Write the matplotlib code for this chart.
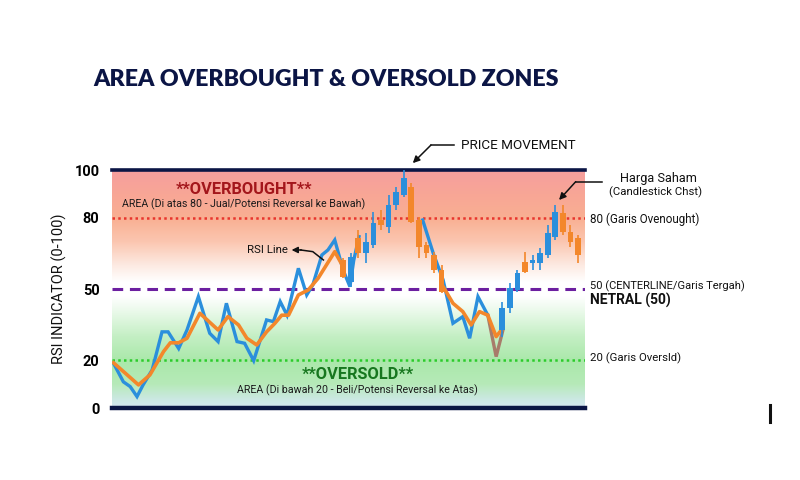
import numpy as np
import matplotlib.pyplot as plt
from matplotlib.colors import LinearSegmentedColormap

# RSI line (blue): x in bar units, y in RSI
rsi_x1 = [-0.3, 1.0, 1.9, 2.8, 3.6, 4.8, 6.1, 6.9, 8.3, 9.4, 10.9, 12.4, 13.5, 14.6,
          16.0, 17.0, 18.2, 19.9, 20.8, 21.7, 22.6, 24.1, 25.2, 26.0, 27.2, 28.0,
          28.9, 30.0, 30.9, 31.4, 32.1]
rsi_y1 = [18.8, 11, 9, 4.8, 9.7, 16, 32, 32, 25, 32.8, 46.8, 31.4, 27.9, 44,
          27.9, 27.2, 19.9, 37, 36.3, 44.7, 39, 58.7, 47.5, 51.7, 64.3, 66.4,
          70.6, 58, 51, 62, 72]
rsi_x2 = [40.5, 41.9, 43.2, 44.5, 45.8, 46.7, 47.8, 49.1]
rsi_y2 = [79, 65, 53.8, 35.6, 38.4, 29.3, 46.8, 39]
rsi_x3 = [49.1, 50.2, 51.1]
rsi_y3 = [39, 21.6, 32.8]

# smoothed line (orange)
ma_x1 = [-0.3, 3.0, 4.5, 6.3, 7.2, 8.3, 9.4, 11.1, 13.5, 14.8, 16.2, 17.3, 18.6,
         19.9, 21.0, 21.9, 22.8, 24.1, 25.4, 26.7, 28.9, 30.0]
ma_y1 = [19, 9.7, 13.9, 23.7, 27.4, 27.4, 29.3, 39.8, 32.8, 38.4, 34.9, 29.3, 26.5,
         32, 35.6, 39, 39, 47.5, 49.6, 54.5, 65.7, 59.4]
ma_x2 = [43.2, 44.5, 45.8, 46.9, 48.0, 49.1, 50.2, 50.9]
ma_y2 = [51, 44, 40.5, 34.9, 40.5, 39, 30, 32.8]

# candlesticks
c_x = [30, 31, 32, 33, 34, 35, 36, 37, 38, 39, 40, 41, 42, 43,
       51, 52, 53, 54, 55, 56, 57, 58, 59, 60, 61]
c_open = [62.2, 53.1, 71.3, 65, 68.5, 79, 76.2, 85.3, 89.5, 93, 79, 68.5, 64.3, 58,
          32.8, 41.9, 49.6, 61.5, 60.8, 60.8, 64.3, 72, 81.8, 74.1, 71.3]
c_close = [55.2, 63.6, 65, 69.9, 77.6, 76.9, 85.3, 90.9, 96.5, 78.3, 67.8, 65, 58, 48.9,
           41.9, 50.3, 56.6, 57.3, 62.2, 65, 73.4, 82.5, 74.1, 69.9, 64.3]
c_high = [63, 65, 74.8, 73.4, 82.5, 83.2, 89.5, 93, 100, 94.4, 80.4, 69.9, 65.7, 60.1,
          44.7, 52.4, 58, 65.7, 64.3, 67.1, 76.9, 85.3, 85.3, 76.9, 72.7]
c_low = [54.5, 51, 62.9, 60.8, 67.1, 74.8, 73.4, 83.2, 88.8, 77.6, 62.9, 62.9, 56.6, 48.2,
         30, 39.8, 48.9, 56.6, 58, 58, 62.9, 70.6, 72.7, 67.8, 60.8]

y_ticks = [0, 20, 50, 80, 100]

BLUE = '#2b8fdc'
ORANGE = '#f3872b'
NAVY = '#0b1545'

fig = plt.figure(figsize=(8, 4.8), dpi=100)
ax = fig.add_axes([0.14, 0.15, 0.591, 0.4958])
xmin, xmax = -0.5, 61.9
ax.set_xlim(xmin, xmax)
ax.set_ylim(0, 100)

# background zones
stops = [(0.0, '#d6e6f2'), (0.03, '#cde8e6'), (0.10, '#b6eab8'), (0.20, '#aae8aa'),
         (0.30, '#c4efc4'), (0.40, '#e8f9e8'), (0.47, '#ffffff'), (0.53, '#ffffff'),
         (0.60, '#fdeae2'), (0.70, '#fbc6b0'), (0.80, '#f9af92'), (0.90, '#f8a696'),
         (1.0, '#f69e9e')]
cmap = LinearSegmentedColormap.from_list('zones', stops)
grad = np.linspace(0, 1, 256).reshape(-1, 1)
ax.imshow(grad, cmap=cmap, aspect='auto', origin='lower',
          extent=[xmin, xmax, 0, 100], zorder=0)

# level lines
ax.axhline(100, color=NAVY, lw=2.6, zorder=3, clip_on=False)
ax.axhline(0, color=NAVY, lw=3.2, zorder=3, clip_on=False)
ax.axhline(80, color='#e8352d', lw=1.8, ls=(0, (1, 1.3)), zorder=2)
ax.axhline(50, color='#6c1fa0', lw=2.2, ls=(0, (3.5, 2.2)), zorder=2)
ax.axhline(20, color='#2ccb2c', lw=1.8, ls=(0, (1, 1.3)), zorder=2)

# RSI lines
ax.plot(rsi_x1, rsi_y1, color=BLUE, lw=2.4, zorder=4, solid_joinstyle='miter')
ax.plot(rsi_x2, rsi_y2, color=BLUE, lw=2.4, zorder=4, solid_joinstyle='miter')
ax.plot(rsi_x3, rsi_y3, color='#a87c6a', lw=2.4, zorder=4, solid_joinstyle='miter')
ax.plot(ma_x1, ma_y1, color=ORANGE, lw=2.6, zorder=5)
ax.plot(ma_x2, ma_y2, color=ORANGE, lw=2.6, zorder=5)

# candles
for x, o, c, h, l in zip(c_x, c_open, c_close, c_high, c_low):
    col = BLUE if c > o else ORANGE
    ax.vlines(x, l, h, color=col, lw=1.2, zorder=6)
    ax.bar(x, abs(c - o), bottom=min(o, c), width=0.75, color=col, zorder=7)

# zone texts
ax.text(16.9, 91.9, '**OVERBOUGHT**', color='#a3161b', fontsize=11.8, fontweight='bold',
        ha='center', va='center', family='Roboto', zorder=8)
ax.text(16.9, 85.6, 'AREA (Di atas 80 - Jual/Potensi Reversal ke Bawah)', color='#1a1a1a',
        fontsize=7.7, ha='center', va='center', family='Roboto', zorder=8)
ax.text(31.9, 13.9, '**OVERSOLD**', color='#17771f', fontsize=11.8, fontweight='bold',
        ha='center', va='center', family='Roboto', zorder=8)
ax.text(31.9, 7.3, 'AREA (Di bawah 20 - Beli/Potensi Reversal ke Atas)', color='#1a1a1a',
        fontsize=7.7, ha='center', va='center', family='Roboto', zorder=8)

# RSI Line callout
ax.plot([27.4, 26.0, 24.4], [62.2, 65.7, 66.4], color='#111111', lw=1.1, zorder=8)
ax.annotate('', xy=(23.2, 66.4), xytext=(24.5, 66.4),
            arrowprops=dict(arrowstyle='-|>', color='#111111', lw=1.1,
                            shrinkA=0, shrinkB=0, mutation_scale=9))
ax.text(22.7, 66.4, 'RSI Line', ha='right', va='center', fontsize=8.2,
        family='Roboto', zorder=8, color='#111111')

# PRICE MOVEMENT callout
ax.plot([44.7, 41.6], [110.5, 110.5], color='#111111', lw=1.1, clip_on=False)
ax.annotate('', xy=(39.2, 102.9), xytext=(41.6, 110.5), annotation_clip=False,
            arrowprops=dict(arrowstyle='-|>', color='#111111', lw=1.1,
                            shrinkA=0, shrinkB=0, mutation_scale=10))
ax.text(45.5, 110.5, 'PRICE MOVEMENT', fontsize=9.7, family='Roboto', ha='left',
        va='center', color='#111111', clip_on=False)

# Harga Saham callout
ax.plot([64.2, 60.7], [95.1, 95.1], color='#111111', lw=1.1, clip_on=False)
ax.annotate('', xy=(58.5, 87.4), xytext=(60.7, 95.1), annotation_clip=False,
            arrowprops=dict(arrowstyle='-|>', color='#111111', lw=1.1,
                            shrinkA=0, shrinkB=0, mutation_scale=10))
ax.text(1.155, 96.5, 'Harga Saham', transform=ax.get_yaxis_transform(), fontsize=9.2,
        family='Roboto', ha='center', va='center', color='#111111')
ax.text(1.15, 90.8, '(Candlestick Chst)', transform=ax.get_yaxis_transform(), fontsize=8.2,
        family='Roboto', ha='center', va='center', color='#111111')

# right-hand level labels
tr = ax.get_yaxis_transform()
ax.text(1.011, 79.3, '80 (Garis Ovenought)', transform=tr, fontsize=8.4, family='Roboto',
        ha='left', va='center', color='#111111')
ax.text(1.011, 51.3, '50 (CENTERLINE/Garis Tergah)', transform=tr, fontsize=8,
        family='Roboto', ha='left', va='center', color='#111111')
ax.text(1.011, 45.2, 'NETRAL (50)', transform=tr, fontsize=10, family='Roboto',
        fontweight='bold', ha='left', va='center', color='#111111')
ax.text(1.011, 20.8, '20 (Garis Oversld)', transform=tr, fontsize=8.2, family='Roboto',
        ha='left', va='center', color='#111111')

# axes styling
ax.set_xticks([])
ax.set_yticks(y_ticks)
ax.set_yticklabels([str(v) for v in y_ticks], fontsize=10.5, fontweight='bold',
                   family='Roboto')
ax.tick_params(axis='y', length=0, pad=9)
for s in ax.spines.values():
    s.set_visible(False)
ax.set_ylabel('RSI INDICATOR (0-100)', fontsize=10.5, family='Roboto', labelpad=5,
              color='#111111')

fig.text(0.116, 0.834, 'AREA OVERBOUGHT & OVERSOLD ZONES', fontsize=16.7,
         fontweight='heavy', family='Lato', color=NAVY, ha='left', va='center')

# small vertical mark at lower right
fig.add_artist(plt.Line2D([0.9625, 0.9625], [0.121, 0.156], color='#111111', lw=2.2))

fig.savefig('out.png', dpi=100)
